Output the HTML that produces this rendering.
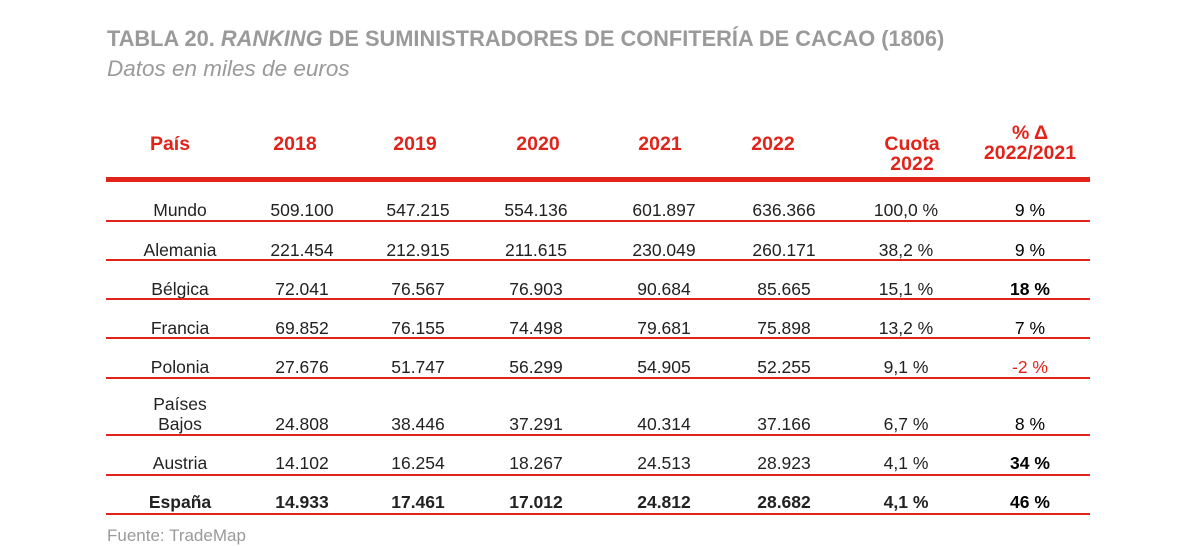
<!DOCTYPE html>
<html><head><meta charset="utf-8"><style>
body{margin:0;width:1203px;height:540px;background:#fff;overflow:hidden;position:relative;font-family:"Liberation Sans",Arial,sans-serif}
.t{position:absolute;white-space:nowrap;transform:translateX(-50%);text-align:center}
.h{color:#e2231a;font-weight:bold;font-size:19.5px;line-height:20px}
.d{color:#222;font-size:17.5px}
.b{font-weight:bold}
.l{position:absolute;left:106px;width:984px;height:2px;background:#e2231a}
</style></head><body>
<div style="position:absolute;left:107px;top:26px;font-size:21.8px;font-weight:bold;color:#9a9a9a">TABLA 20. <i>RANKING</i> DE SUMINISTRADORES DE CONFITERÍA DE CACAO (1806)</div>
<div style="position:absolute;left:107px;top:56px;font-size:22.5px;font-style:italic;color:#9a9a9a">Datos en miles de euros</div>
<div class="t h" style="left:170px;top:134px">País</div>
<div class="t h" style="left:295px;top:134px">2018</div>
<div class="t h" style="left:415px;top:134px">2019</div>
<div class="t h" style="left:538px;top:134px">2020</div>
<div class="t h" style="left:660px;top:134px">2021</div>
<div class="t h" style="left:773px;top:134px">2022</div>
<div class="t h" style="left:912px;top:134px">Cuota<br>2022</div>
<div class="t h" style="left:1030px;top:123px">% Δ<br>2022/2021</div>
<div class="l" style="top:177px;height:5px"></div>
<div id="rows"></div>
<script>
var rows=[["Mundo","509.100","547.215","554.136","601.897","636.366","100,0 %","9 %",200,220,0],
["Alemania","221.454","212.915","211.615","230.049","260.171","38,2 %","9 %",240,259,0],
["Bélgica","72.041","76.567","76.903","90.684","85.665","15,1 %","18 %",279,298,0],
["Francia","69.852","76.155","74.498","79.681","75.898","13,2 %","7 %",318,337,0],
["Polonia","27.676","51.747","56.299","54.905","52.255","9,1 %","-2 %",357,377,0],
["Bajos","24.808","38.446","37.291","40.314","37.166","6,7 %","8 %",414,434,0],
["Austria","14.102","16.254","18.267","24.513","28.923","4,1 %","34 %",453,474,0],
["España","14.933","17.461","17.012","24.812","28.682","4,1 %","46 %",492,513,1]];
var xs=[180,302,418,536,664,784,906,1030],h="";
rows.forEach(function(r){for(var i=0;i<8;i++){var c="t d";if(r[10])c+=" b";var st="left:"+xs[i]+"px;top:"+r[8]+"px;";if(i==7)st+="color:"+(r[7]=="-2 %"?"#e2231a":"#000")+";"+(r[7]=="9 %"||r[7]=="7 %"||r[7]=="8 %"||r[7]=="-2 %"?"":"font-weight:bold;");h+='<div class="'+c+'" style="'+st+'">'+r[i]+'</div>';}
h+='<div class="l" style="top:'+r[9]+'px"></div>';});
h+='<div class="t d" style="left:180px;top:394px">Países</div>';
document.getElementById("rows").innerHTML=h;
</script>
<div style="position:absolute;left:107px;top:526px;font-size:17px;color:#9a9a9a">Fuente: TradeMap</div>
</body></html>
